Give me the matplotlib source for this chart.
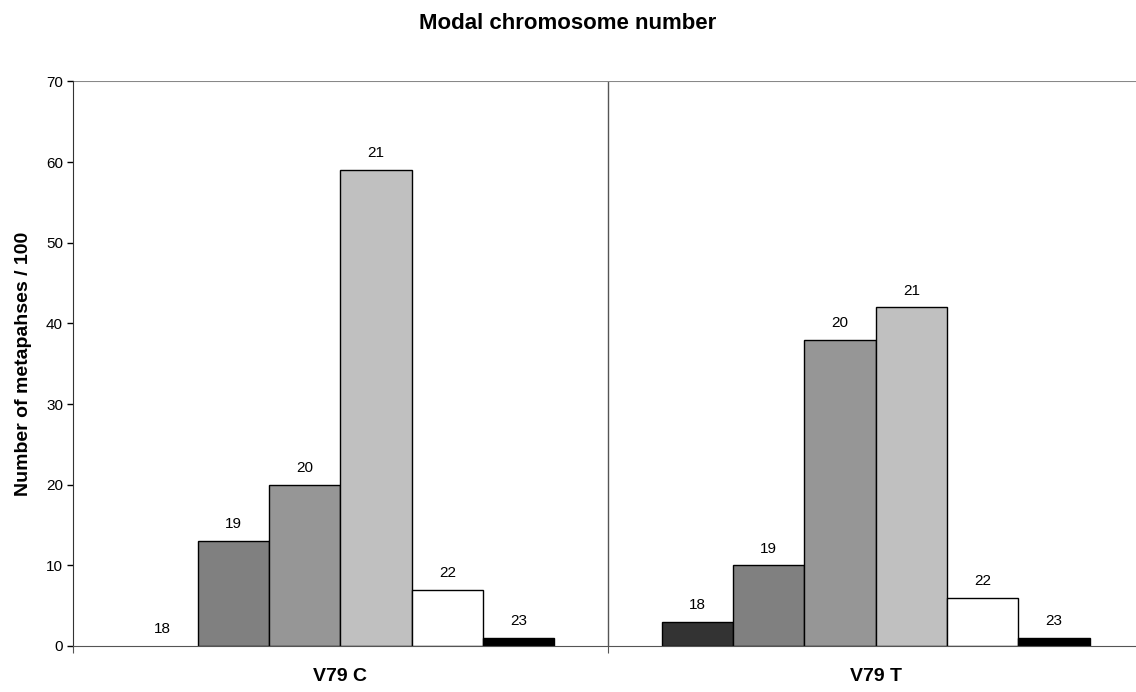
import matplotlib.pyplot as plt
import numpy as np

plt.rcParams['font.family'] = ['Liberation Sans', 'DejaVu Sans']

groups = ['V79 C', 'V79 T']
chrom = ['18', '19', '20', '21', '22', '23']
values = {
    'V79 C': [0, 13, 20, 59, 7, 1],
    'V79 T': [3, 10, 38, 42, 6, 1],
}
colors = ['#333333', '#808080', '#969696', '#c0c0c0', '#ffffff', '#000000']

fig = plt.figure(figsize=(11.36, 6.92), dpi=100)
ax = fig.add_axes([0.064, 0.0665, 0.9424, 0.8158])

w = 0.8 / len(chrom)
x = np.arange(len(groups))
for i, c in enumerate(chrom):
    vals = [values[g][i] for g in groups]
    pos = x + (i - 2.5) * w
    bars = ax.bar(pos, vals, width=w, color=colors[i], edgecolor='black', linewidth=1.0)
    for b, v in zip(bars, vals):
        if v == 0:
            b.set_linewidth(0)
        ax.annotate(c, (b.get_x() + b.get_width() / 2, v), xytext=(0, 7),
                    textcoords='offset points', ha='center', va='bottom', fontsize=11)

ax.set_xlim(-0.5, 1.5)
ax.set_ylim(0, 70)
ax.set_yticks(range(0, 71, 10))
ax.tick_params(axis='y', direction='out', length=4, width=1, labelsize=11, pad=3)

# group separators as major ticks, labels on minor ticks
ax.set_xticks([-0.5, 0.5, 1.5])
ax.set_xticklabels([])
ax.tick_params(axis='x', which='major', direction='out', length=5, color='#555555')
ax.set_xticks(x, minor=True)
ax.set_xticklabels(groups, minor=True, fontweight='bold', fontsize=14)
ax.tick_params(axis='x', which='minor', length=0, pad=16)

ax.axvline(0.5, color='#555555', linewidth=1.0, zorder=0)
ax.axhline(70, color='#888888', linewidth=1.5, zorder=0)

for s in ['top', 'right']:
    ax.spines[s].set_visible(False)
ax.spines['left'].set_color('#333333')
ax.spines['bottom'].set_color('#555555')

fig.text(0.021, 0.4745, 'Number of metapahses / 100', rotation=90, ha='center', va='center',
         fontweight='bold', fontsize=14)
fig.text(0.5, 0.966, 'Modal chromosome number', ha='center', va='center',
         fontweight='bold', fontsize=16)

fig.savefig('out.png', dpi=100)
